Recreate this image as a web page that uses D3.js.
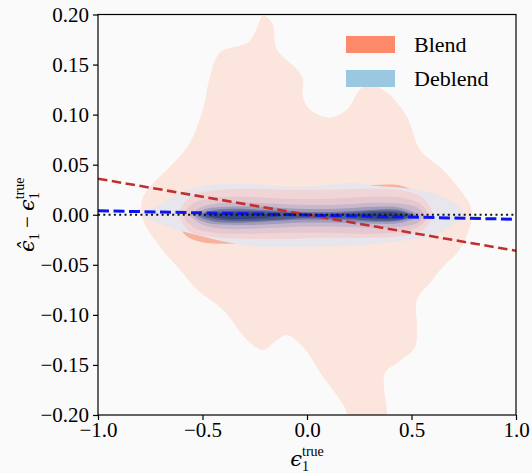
<!DOCTYPE html>
<html>
<head>
<meta charset="utf-8">
<script src="https://cdn.jsdelivr.net/npm/d3@7"></script>
<style>
  body { margin: 0; background: #fafafa; }
  svg { display: block; background: #fafafa; }
  text { font-family: "Liberation Serif", "DejaVu Serif", serif; fill: #000; }
  .math { font-family: "DejaVu Serif", serif; font-style: italic; }
</style>
</head>
<body>
<svg width="532" height="473"></svg>
<script>
var width = 532, height = 473;
var margin = {top: 14.5, right: 16, bottom: 58, left: 98};

// axis ticks
var xTicks = [-1.0, -0.5, 0.0, 0.5, 1.0];
var yTicks = [-0.20, -0.15, -0.10, -0.05, 0.00, 0.05, 0.10, 0.15, 0.20];

// outer Blend KDE contour (data coords)
var blendOuter = [
  [-0.211, 0.199], [-0.185, 0.196], [-0.163, 0.190], [-0.144, 0.165], [-0.048, 0.145],
  [-0.019, 0.135], [-0.020, 0.118], [0.014, 0.105], [0.110, 0.097], [0.191, 0.105],
  [0.254, 0.125], [0.301, 0.130], [0.383, 0.122], [0.478, 0.098], [0.541, 0.065],
  [0.651, 0.045], [0.732, 0.025], [0.780, 0.010], [0.789, -0.003], [0.756, -0.025],
  [0.718, -0.038], [0.651, -0.052], [0.589, -0.068], [0.526, -0.085], [0.526, -0.112],
  [0.517, -0.132], [0.431, -0.148], [0.373, -0.158], [0.383, -0.198], [0.388, -0.225],
  [0.182, -0.225], [0.191, -0.198], [0.077, -0.162], [-0.019, -0.132], [-0.096, -0.120],
  [-0.144, -0.125], [-0.211, -0.135], [-0.287, -0.125], [-0.402, -0.095], [-0.526, -0.075],
  [-0.608, -0.055], [-0.703, -0.032], [-0.785, -0.005], [-0.789, 0.015], [-0.751, 0.028],
  [-0.656, 0.048], [-0.560, 0.072], [-0.498, 0.105], [-0.464, 0.138], [-0.416, 0.162],
  [-0.282, 0.172], [-0.249, 0.182]
];

// second Blend level (salmon rim) and the pink ribbon inside the Deblend band
var blendRim = {
  x:   [-0.617, -0.584, -0.512, -0.368, -0.033, 0.206, 0.349, 0.450, 0.540, 0.598],
  top: [-0.005, 0.015, 0.025, 0.027, 0.027, 0.028, 0.030, 0.029, 0.020, 0.000],
  bot: [-0.005, -0.020, -0.027, -0.029, -0.025, -0.025, -0.022, -0.020, -0.013, 0.000]
};
var blendRibbon = {
  x:   [-0.61, -0.56, -0.46, -0.30, -0.10, 0.10, 0.30, 0.46, 0.56, 0.60],
  top: [0.000, 0.018, 0.024, 0.026, 0.025, 0.025, 0.026, 0.024, 0.016, 0.000],
  bot: [0.000, -0.017, -0.022, -0.024, -0.024, -0.023, -0.023, -0.021, -0.014, 0.000]
};

// Deblend contours, outer to inner
var deblendOuter = {
  x:   [-0.785, -0.703, -0.608, -0.512, -0.368, -0.225, -0.081, 0.062, 0.206, 0.325, 0.493, 0.636, 0.746],
  top: [0.000, 0.010, 0.022, 0.028, 0.031, 0.030, 0.028, 0.029, 0.032, 0.029, 0.026, 0.019, 0.002],
  bot: [0.000, -0.009, -0.016, -0.021, -0.028, -0.032, -0.032, -0.032, -0.031, -0.029, -0.025, -0.018, 0.002]
};
var deblendInner = [
  {x:   [-0.59, -0.54, -0.44, -0.30, -0.10, 0.10, 0.30, 0.45, 0.54, 0.58],
   top: [0.000, 0.012, 0.017, 0.018, 0.016, 0.016, 0.018, 0.017, 0.011, 0.000],
   bot: [0.000, -0.013, -0.018, -0.019, -0.018, -0.018, -0.019, -0.017, -0.011, 0.000]},
  {x:   [-0.56, -0.50, -0.40, -0.25, -0.05, 0.15, 0.32, 0.45, 0.53, 0.56],
   top: [0.000, 0.008, 0.012, 0.012, 0.010, 0.010, 0.012, 0.011, 0.007, 0.000],
   bot: [-0.001, -0.010, -0.014, -0.014, -0.012, -0.012, -0.013, -0.012, -0.008, -0.001]},
  {x:   [-0.54, -0.48, -0.38, -0.22, -0.05, 0.15, 0.32, 0.45, 0.53],
   top: [-0.001, 0.006, 0.008, 0.008, 0.006, 0.006, 0.008, 0.007, -0.001],
   bot: [-0.001, -0.008, -0.010, -0.010, -0.008, -0.008, -0.009, -0.008, -0.001]},
  {x:   [-0.52, -0.46, -0.36, -0.22, -0.05, 0.15, 0.32, 0.44, 0.51],
   top: [-0.001, 0.004, 0.006, 0.005, 0.003, 0.003, 0.005, 0.005, -0.001],
   bot: [-0.001, -0.006, -0.008, -0.007, -0.005, -0.005, -0.007, -0.006, -0.001]},
  {x:   [-0.50, -0.42, -0.30, -0.15, 0.00, 0.20, 0.35, 0.45, 0.50],
   top: [-0.001, 0.003, 0.004, 0.003, 0.001, 0.002, 0.004, 0.003, -0.001],
   bot: [-0.001, -0.005, -0.006, -0.005, -0.003, -0.004, -0.006, -0.005, -0.001]},
  {x:   [-0.47, -0.38, -0.26, -0.12],
   top: [-0.001, 0.002, 0.002, -0.001],
   bot: [-0.001, -0.004, -0.004, -0.001]},
  {x:   [0.22, 0.32, 0.42, 0.48],
   top: [-0.001, 0.002, 0.002, -0.001],
   bot: [-0.001, -0.004, -0.004, -0.001]}
];

// composite fill colours as they appear in the picture
var blendColors = ["#fce5dc", "#f8b29c"];
var ribbonColor = "#f1d4d6";
var deblendOuterColor = "#e6e6ec";
var deblendColors = ["#e4c8d0", "#c9b7cb", "#a19cbc", "#7479a2", "#4c5a8c", "#34457a", "#34457a"];

// regression lines and the zero line
var lineX = [-1, 1];
var blendFit = [0.036, -0.036];
var deblendFit = [0.004, -0.0045];
var zeroLine = [0, 0];

var legendNames = ["Blend", "Deblend"];
var legendColors = ["#fc8a6a", "#9ac8e0"];

var svg = d3.select("svg");
var iw = width - margin.left - margin.right;
var ih = height - margin.top - margin.bottom;

var x = d3.scaleLinear().domain([-1, 1]).range([margin.left, margin.left + iw]);
var y = d3.scaleLinear().domain([-0.2, 0.2]).range([margin.top + ih, margin.top]);

svg.append("clipPath").attr("id", "plot-clip")
  .append("rect")
    .attr("x", margin.left).attr("y", margin.top)
    .attr("width", iw).attr("height", ih);

var area = d3.line()
    .x(function(d) { return x(d[0]); })
    .y(function(d) { return y(d[1]); })
    .curve(d3.curveCatmullRomClosed.alpha(0.5));

function profileToPoly(p) {
  var up = p.x.map(function(v, i) { return [v, p.top[i]]; });
  var lo = p.x.map(function(v, i) { return [v, p.bot[i]]; }).reverse()
    .filter(function(d) { return !up.some(function(u) { return u[0] === d[0] && u[1] === d[1]; }); });
  return up.concat(lo);
}

var plot = svg.append("g").attr("clip-path", "url(#plot-clip)");

// stacking order: blend outer levels, deblend outer, blend ribbon, deblend core
var layers = [
  {poly: blendOuter, color: blendColors[0]},
  {poly: profileToPoly(blendRim), color: blendColors[1]},
  {poly: profileToPoly(deblendOuter), color: deblendOuterColor},
  {poly: profileToPoly(blendRibbon), color: ribbonColor}
].concat(deblendInner.map(function(p, i) {
  return {poly: profileToPoly(p), color: deblendColors[i]};
}));

plot.selectAll("path.kde")
  .data(layers)
  .enter().append("path")
    .attr("class", "kde")
    .attr("d", function(d) { return area(d.poly); })
    .attr("fill", function(d) { return d.color; });

var line = d3.line()
    .x(function(d) { return x(d[0]); })
    .y(function(d) { return y(d[1]); });

function pairs(ys) { return lineX.map(function(v, i) { return [v, ys[i]]; }); }

plot.append("path").datum(pairs(blendFit))
    .attr("d", line).attr("fill", "none")
    .attr("stroke", "#c22f2f").attr("stroke-width", 2.6)
    .attr("stroke-dasharray", "9.5,4.5");

plot.append("path").datum(pairs(deblendFit))
    .attr("d", line).attr("fill", "none")
    .attr("stroke", "#0a14f5").attr("stroke-width", 3)
    .attr("stroke-dasharray", "11,4.5");

plot.append("path").datum(pairs(zeroLine))
    .attr("d", line).attr("fill", "none")
    .attr("stroke", "#111").attr("stroke-width", 2)
    .attr("stroke-dasharray", "2,3.3");

// axes
function fmt(n) { return function(v) { return d3.format("." + n + "f")(v).replace("-", "\u2212"); }; }

var xAxis = svg.append("g")
    .attr("transform", "translate(0," + (margin.top + ih) + ")")
    .call(d3.axisBottom(x).tickValues(xTicks).tickFormat(fmt(1)).tickSize(5).tickSizeOuter(0).tickPadding(2));
var yAxis = svg.append("g")
    .attr("transform", "translate(" + margin.left + ",0)")
    .call(d3.axisLeft(y).tickValues(yTicks).tickFormat(fmt(2)).tickSize(5).tickSizeOuter(0).tickPadding(4));

[xAxis, yAxis].forEach(function(a) {
  a.select(".domain").remove();
  a.selectAll(".tick line").attr("stroke", "#000").attr("stroke-width", 1.2);
  a.selectAll(".tick text")
    .attr("font-size", 21).attr("fill", "#000");
});

svg.append("rect")
    .attr("x", margin.left).attr("y", margin.top)
    .attr("width", iw).attr("height", ih)
    .attr("fill", "none").attr("stroke", "#000").attr("stroke-width", 1.2);

// axis labels
var xl = svg.append("text")
    .attr("x", x(0)).attr("y", 466)
    .attr("text-anchor", "middle").attr("font-size", 21);
xl.append("tspan").attr("class", "math").text("\u03f5");
xl.append("tspan").attr("font-size", 14).attr("dy", 5).text("1");
xl.append("tspan").attr("font-size", 14).attr("dx", -7).attr("dy", -15).text("true");

var yl = svg.append("text")
    .attr("transform", "translate(34," + y(0) + ") rotate(-90)")
    .attr("text-anchor", "middle").attr("font-size", 21);
yl.append("tspan").attr("class", "math").text("\u03f5\u0302");
yl.append("tspan").attr("font-size", 14).attr("dy", 5).text("1");
yl.append("tspan").attr("dy", -5).text(" \u2212 ");
yl.append("tspan").attr("class", "math").text("\u03f5");
yl.append("tspan").attr("font-size", 14).attr("dy", 5).text("1");
yl.append("tspan").attr("font-size", 14).attr("dx", -7).attr("dy", -15).text("true");

// legend
var leg = svg.append("g").selectAll("g")
  .data(legendNames)
  .enter().append("g")
    .attr("transform", function(d, i) { return "translate(346," + (36 + i * 34) + ")"; });
leg.append("rect")
    .attr("width", 49).attr("height", 17)
    .attr("fill", function(d, i) { return legendColors[i]; });
leg.append("text")
    .attr("x", 68).attr("y", 16)
    .attr("font-size", 22)
    .text(function(d) { return d; });
</script>
</body>
</html>
